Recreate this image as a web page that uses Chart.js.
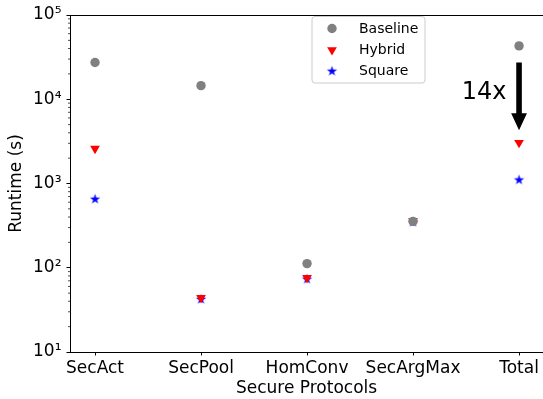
<!DOCTYPE html>
<html><head><meta charset="utf-8">
<script src="https://cdn.jsdelivr.net/npm/chart.js@4/dist/chart.umd.min.js"></script>
<style>html,body{margin:0;padding:0;background:#fff;overflow:hidden}#wrap{width:543px;height:399px;position:relative}</style>
</head><body><div id="wrap"><canvas id="c"></canvas></div>
<script>
// ---- data ----
const categories = ['SecAct', 'SecPool', 'HomConv', 'SecArgMax', 'Total'];
const seriesNames = ['Baseline', 'Hybrid', 'Square'];
const baselineValues = [27300, 14500, 112, 355, 43000];
const hybridValues = [2600, 44, 76, 362, 3050];
const squareValues = [650, 42, 73, 346, 1100];
const yTickValues = [10, 100, 1000, 10000, 100000];
const yTickLabels = ['10¹', '10²', '10³', '10⁴', '10⁵'];
const xAxisTitle = 'Secure Protocols';
const yAxisTitle = 'Runtime (s)';
// annotation: arrow at "Total" from baseline level down toward hybrid
const arrowCategoryIndex = 4;
const arrowFromValue = 27300;
const arrowToValue = 4300;
const annotationText = '14x';
const annotationX = 3.67;
const annotationY = 10000;

const FONT = "'DejaVu Sans', sans-serif";

function makeStar(color, outer) {
  const s = Math.ceil(outer * 2 + 2);
  const cv = document.createElement('canvas');
  cv.width = s; cv.height = s;
  const g = cv.getContext('2d');
  const cx = s / 2, cy = s / 2, inner = outer * 0.381966;
  g.beginPath();
  for (let i = 0; i < 10; i++) {
    const r = i % 2 === 0 ? outer : inner;
    const a = -Math.PI / 2 + i * Math.PI / 5;
    const px = cx + r * Math.cos(a), py = cy + r * Math.sin(a);
    if (i === 0) g.moveTo(px, py); else g.lineTo(px, py);
  }
  g.closePath();
  g.fillStyle = color; g.fill();
  return cv;
}
const starImg = makeStar('#0000ff', 5.4);

const toPts = arr => arr.map((v, i) => ({ x: i, y: v }));

const datasets = [
  { label: seriesNames[0], data: toPts(baselineValues), pointStyle: 'circle', pointRadius: 4.7,
    backgroundColor: '#808080', borderColor: '#808080', borderWidth: 0 },
  { label: seriesNames[1], data: toPts(hybridValues), pointStyle: 'triangle', rotation: 180, pointRadius: 5.6,
    backgroundColor: '#ff0000', borderColor: '#ff0000', borderWidth: 0 },
  { label: seriesNames[2], data: toPts(squareValues), pointStyle: starImg, pointRadius: 5.4,
    backgroundColor: '#0000ff', borderColor: '#0000ff', borderWidth: 0 }
];

const decorPlugin = {
  id: 'decor',
  afterDraw(chart) {
    const ctx = chart.ctx, ca = chart.chartArea;
    const xs = chart.scales.x, ys = chart.scales.y;
    ctx.save();
    // no right spine: keep the right edge clear between top and bottom spines
    ctx.fillStyle = '#fff';
    ctx.fillRect(ca.right - 2, ca.top + 1.5, 3, ca.bottom - ca.top - 3);
    // top spine
    ctx.strokeStyle = '#000'; ctx.lineWidth = 1;
    ctx.beginPath(); ctx.moveTo(ca.left, Math.round(ca.top) + 0.5); ctx.lineTo(ca.right, Math.round(ca.top) + 0.5); ctx.stroke();
    // minor ticks on log axis
    ctx.lineWidth = 0.7; ctx.strokeStyle = '#000';
    for (let d = 1; d < 5; d++) {
      for (let k = 2; k <= 9; k++) {
        const v = k * Math.pow(10, d);
        const py = ys.getPixelForValue(v);
        ctx.beginPath(); ctx.moveTo(ca.left - 2, py); ctx.lineTo(ca.left, py); ctx.stroke();
      }
    }
    // arrow
    const ax = xs.getPixelForValue(arrowCategoryIndex);
    const y0 = ys.getPixelForValue(arrowFromValue);
    const y1 = ys.getPixelForValue(arrowToValue);
    const headLen = 17, headHalf = 7.9, shaftHalf = 2.8;
    ctx.fillStyle = '#000';
    ctx.beginPath();
    ctx.moveTo(ax - shaftHalf, y0);
    ctx.lineTo(ax + shaftHalf, y0);
    ctx.lineTo(ax + shaftHalf, y1 - headLen);
    ctx.lineTo(ax + headHalf, y1 - headLen);
    ctx.lineTo(ax, y1);
    ctx.lineTo(ax - headHalf, y1 - headLen);
    ctx.lineTo(ax - shaftHalf, y1 - headLen);
    ctx.closePath();
    ctx.fill();
    // annotation text
    ctx.font = '24px ' + FONT;
    ctx.textAlign = 'center'; ctx.textBaseline = 'alphabetic';
    ctx.fillText(annotationText, xs.getPixelForValue(annotationX), ys.getPixelForValue(annotationY));
    // legend
    const lx = 312, ly = 16.5, lw = 113, lh = 66.5, rr = 3;
    ctx.fillStyle = 'rgba(255,255,255,0.8)';
    ctx.strokeStyle = '#cccccc'; ctx.lineWidth = 1;
    ctx.beginPath();
    ctx.moveTo(lx + rr, ly); ctx.lineTo(lx + lw - rr, ly); ctx.quadraticCurveTo(lx + lw, ly, lx + lw, ly + rr);
    ctx.lineTo(lx + lw, ly + lh - rr); ctx.quadraticCurveTo(lx + lw, ly + lh, lx + lw - rr, ly + lh);
    ctx.lineTo(lx + rr, ly + lh); ctx.quadraticCurveTo(lx, ly + lh, lx, ly + lh - rr);
    ctx.lineTo(lx, ly + rr); ctx.quadraticCurveTo(lx, ly, lx + rr, ly);
    ctx.closePath(); ctx.fill(); ctx.stroke();
    const rowsY = [28.5, 50, 71.3];
    ctx.font = '14px ' + FONT; ctx.textAlign = 'left'; ctx.textBaseline = 'middle';
    chart.data.datasets.forEach((ds, i) => {
      const my = rowsY[i], mx = 332;
      ctx.fillStyle = ds.backgroundColor;
      Chart.helpers.drawPoint(ctx, { pointStyle: ds.pointStyle, rotation: ds.rotation || 0, radius: ds.pointRadius, borderWidth: 0 }, mx, my);
      ctx.fillStyle = '#000';
      ctx.fillText(ds.label, 359, my + 0.5);
    });
    ctx.restore();
  }
};

new Chart(document.getElementById('c'), {
  type: 'scatter',
  data: { datasets },
  options: {
    responsive: true, maintainAspectRatio: false, animation: false, events: [],
    layout: { autoPadding: false, padding: { top: 15, right: 0, left: 0, bottom: 0 } },
    plugins: { legend: { display: false }, tooltip: { enabled: false } },
    scales: {
      x: {
        type: 'linear', min: -0.236, max: 4.226,
        afterBuildTicks: s => { s.ticks = categories.map((c, i) => ({ value: i })); },
        afterFit: s => { s.height = 47; s.paddingLeft = 0; s.paddingRight = 0; },
        ticks: { autoSkip: false, maxRotation: 0, padding: 2.6, color: '#000',
          font: { family: FONT, size: 17 }, callback: v => categories[v] },
        grid: { drawOnChartArea: false, tickLength: 3.5, color: '#000', tickWidth: 1 },
        border: { display: true, color: '#000', width: 1 },
        title: { display: true, text: xAxisTitle, color: '#000', font: { family: FONT, size: 17 }, padding: { top: 0, bottom: 0 } }
      },
      y: {
        type: 'logarithmic', min: 10, max: 100000,
        afterBuildTicks: s => { s.ticks = yTickValues.map(v => ({ value: v, major: true })); },
        afterFit: s => { s.width = 70; s.paddingTop = 0; s.paddingBottom = 0; },
        ticks: { autoSkip: false, padding: 5, color: '#000', font: { family: FONT, size: 17 },
          callback: v => { const i = yTickValues.indexOf(v); return i >= 0 ? yTickLabels[i] : ''; } },
        grid: { drawOnChartArea: false, tickLength: 3.5, color: '#000', tickWidth: 1 },
        border: { display: true, color: '#000', width: 1 },
        title: { display: true, text: yAxisTitle, color: '#000', font: { family: FONT, size: 17 }, padding: { top: 6, bottom: 0 } }
      }
    }
  },
  plugins: [decorPlugin]
});
</script></body></html>
